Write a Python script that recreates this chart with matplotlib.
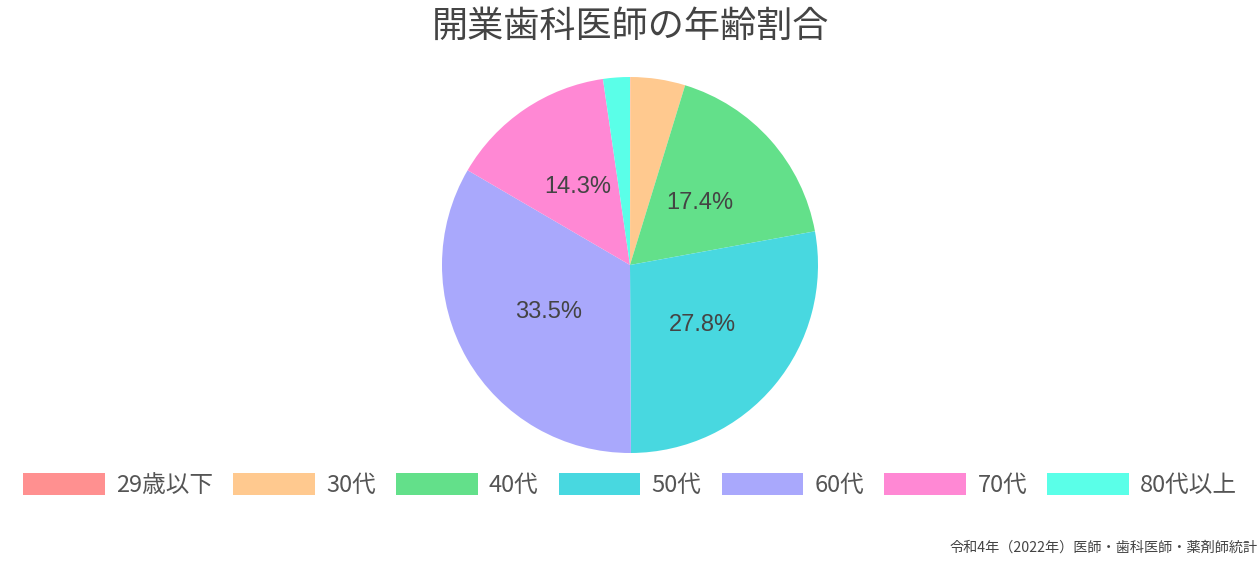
import matplotlib
matplotlib.use("Agg")
import matplotlib.pyplot as plt
from matplotlib.patches import Patch

plt.rcParams['font.family'] = ['Noto Sans CJK JP', 'DejaVu Sans']

categories = ['29歳以下', '30代', '40代', '50代', '60代', '70代', '80代以上']
values = [0.04, 4.7, 17.4, 27.8, 33.5, 14.3, 2.3]
colors = ['#FF9090', '#FFC98F', '#63E08A', '#48D8E0', '#A9A8FC', '#FF88D4', '#5AFFE8']
title = '開業歯科医師の年齢割合'
source = '令和4年（2022年）医師・歯科医師・薬剤師統計'

W, H = 1260, 562
fig = plt.figure(figsize=(W/100, H/100), dpi=100)
cx, cy, r = 630, 265, 188
ax = fig.add_axes([(cx-r)/W, (H-cy-r)/H, 2*r/W, 2*r/H])

def fmt(p):
    return f'{p:.1f}%' if p >= 10 else ''

wedges, texts, autotexts = ax.pie(values, colors=colors, startangle=90, counterclock=False,
                                  autopct=fmt, pctdistance=0.5, radius=1,
                                  wedgeprops=dict(linewidth=0),
                                  textprops=dict(fontsize=17, color='#444444'))
for t in autotexts:
    t.set_family(['Liberation Sans', 'DejaVu Sans'])
ax.set_xlim(-1, 1)
ax.set_ylim(-1, 1)
ax.set_aspect('equal')
ax.axis('off')

fig.text(0.5, 1 - 27/H, title, ha='center', va='center', fontsize=26, color='#444444')

handles = [Patch(facecolor=c, edgecolor='none') for c in colors]
fig.legend(handles, categories, loc='center', bbox_to_anchor=(0.5, 1 - 485/H), ncol=7,
           frameon=False, fontsize=17, labelcolor='#555555',
           handlelength=3.47, handleheight=1.1, handletextpad=0.47, columnspacing=0.85)

fig.text(1 - 2/W, 1 - 548/H, source, ha='right', va='center', fontsize=10.2, color='#444444')

fig.savefig('out.png', dpi=100)
